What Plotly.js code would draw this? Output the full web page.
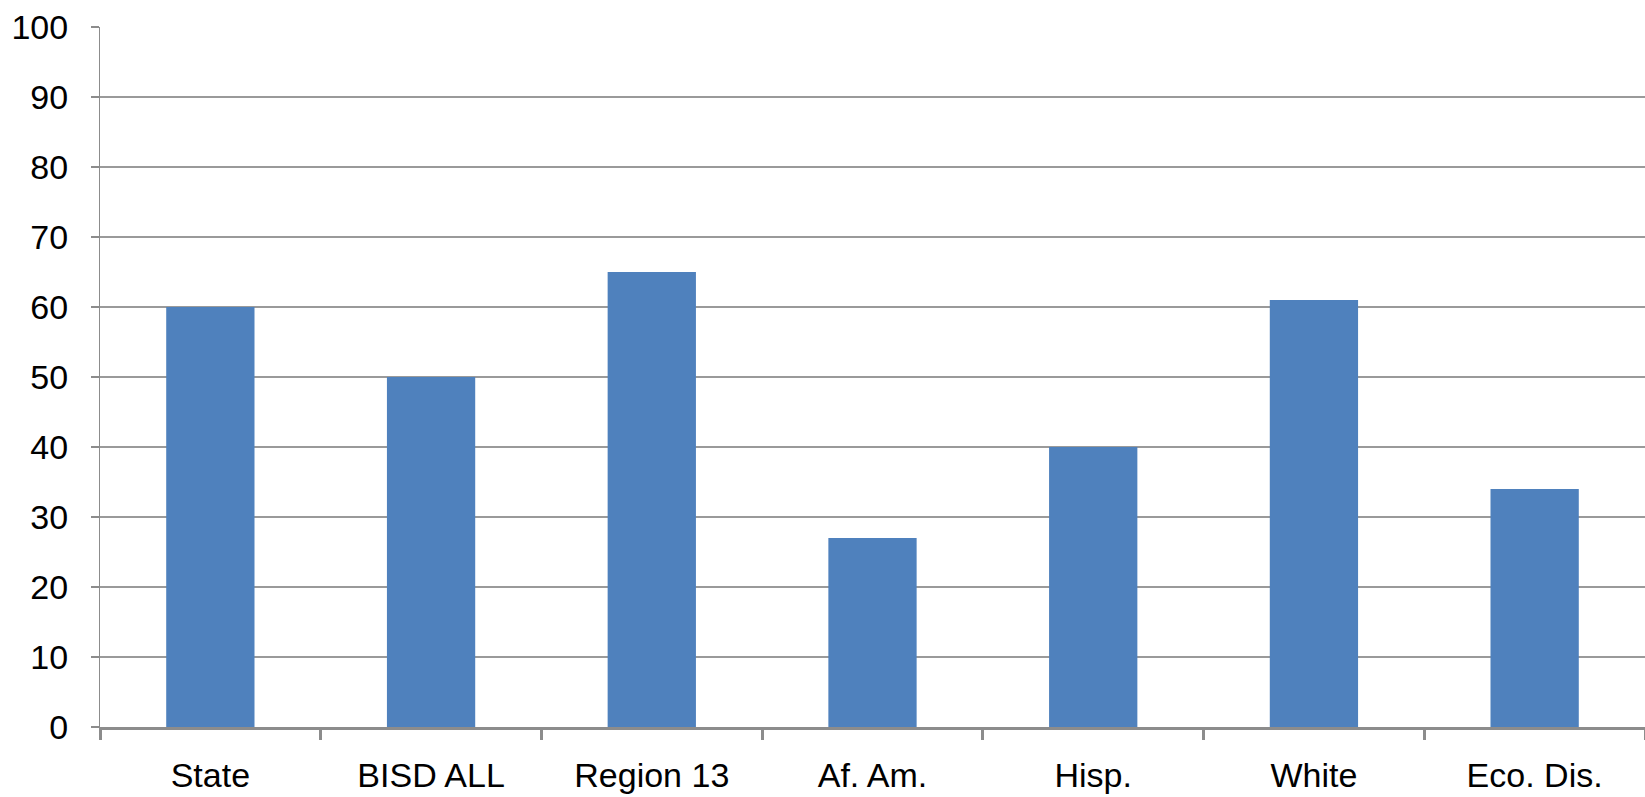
<!DOCTYPE html>
<html>
<head>
<meta charset="utf-8">
<script src="https://cdn.plot.ly/plotly-3.0.1.min.js"></script>
<style>html,body{margin:0;padding:0;background:#fff;}#chart{width:1645px;height:797px;}</style>
</head>
<body>
<div id="chart"></div>
<script>
const categories = ["State", "BISD ALL", "Region 13", "Af. Am.", "Hisp.", "White", "Eco. Dis."];
const values = [60, 50, 65, 27, 40, 61, 34];
const yTicks = [0, 10, 20, 30, 40, 50, 60, 70, 80, 90, 100];

const data = [{
  type: "bar",
  x: categories,
  y: values,
  marker: {color: "#4F81BD", line: {width: 0}},
  hoverinfo: "x+y"
}];

const layout = {
  width: 1645,
  height: 797,
  margin: {l: 100, r: 0, t: 27, b: 70},
  paper_bgcolor: "#ffffff",
  plot_bgcolor: "#ffffff",
  bargap: 0.6,
  showlegend: false,
  font: {family: "Liberation Sans, Arial, sans-serif", color: "#000000", size: 34},
  xaxis: {
    type: "category",
    showline: true,
    linecolor: "#8c8c8c",
    linewidth: 3,
    ticks: "outside",
    tickson: "boundaries",
    ticklen: 10,
    tickwidth: 3,
    tickcolor: "#8c8c8c",
    showgrid: false,
    zeroline: false,
    tickfont: {size: 34, family: "Liberation Sans, Arial, sans-serif", color: "#000000"},
    ticklabelstandoff: 16,
    fixedrange: true
  },
  yaxis: {
    range: [0, 100],
    tickvals: yTicks,
    ticktext: yTicks.map(String),
    showline: true,
    linecolor: "#8c8c8c",
    linewidth: 1,
    ticks: "outside",
    ticklen: 8,
    tickwidth: 2,
    tickcolor: "#8c8c8c",
    showgrid: true,
    gridcolor: "#9a9a9a",
    gridwidth: 1.5,
    zeroline: false,
    tickfont: {size: 34, family: "Liberation Sans, Arial, sans-serif", color: "#000000"},
    ticklabelstandoff: 16,
    fixedrange: true
  }
};

Plotly.newPlot("chart", data, layout, {displayModeBar: false, staticPlot: true});
</script>
</body>
</html>
